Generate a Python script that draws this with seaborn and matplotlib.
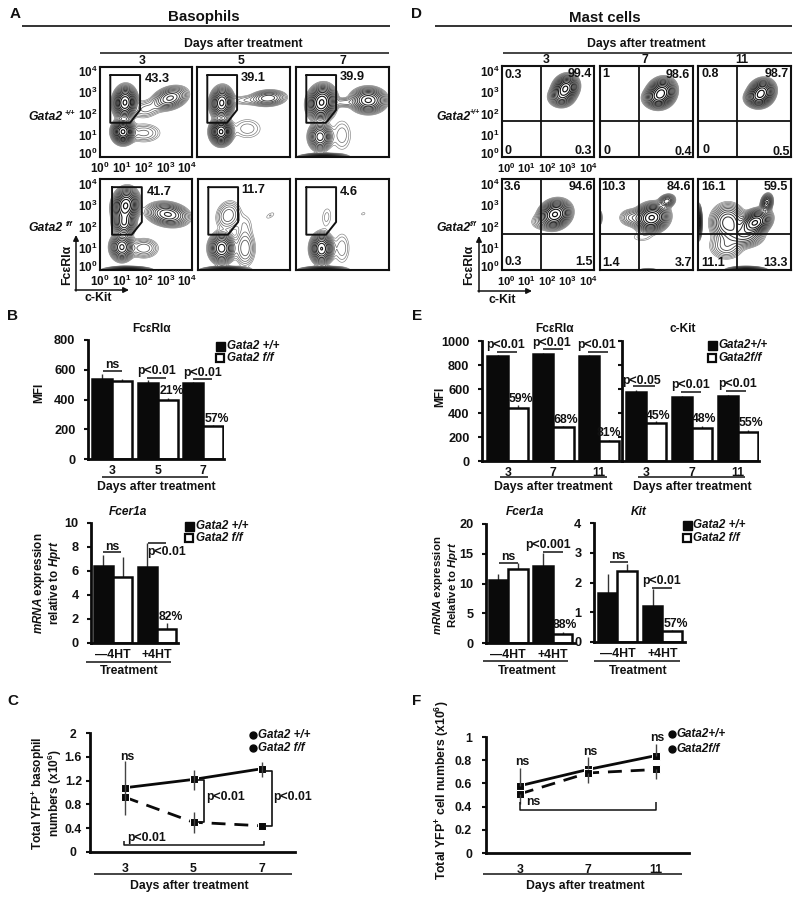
import numpy as np
import pandas as pd
import matplotlib
matplotlib.use("Agg")
import matplotlib.pyplot as plt
from matplotlib.patches import Rectangle
import seaborn as sns

sns.set_theme(style="ticks")
plt.rcParams['font.family'] = ['Liberation Sans', 'DejaVu Sans']
plt.rcParams['font.weight'] = 'bold'
plt.rcParams['mathtext.fontset'] = 'custom'
plt.rcParams['mathtext.rm'] = 'Liberation Sans:bold'
plt.rcParams['mathtext.bf'] = 'Liberation Sans:bold'
plt.rcParams['mathtext.it'] = 'Liberation Sans:italic:bold'
plt.rcParams['mathtext.bfit'] = 'Liberation Sans:italic:bold'

W, H = 800, 901
INK = "#111111"

# ---------- flow-cytometry populations: (cx, cy, sx, sy, rho, weight) in decades
STRIP = (1.25, -0.02, 0.42, 0.07, 0, 0.95)
baso_wt_3 = [(1.14, 2.5, .22, .31, .05, 1), (1.05, 1.16, .21, .23, 0, 1), (3.2, 2.7, .36, .24, .3, .3),
             (2.1, 2.2, .38, .24, .2, .05), (2.0, 1.1, .45, .25, 0, .05)]
baso_wt_5 = [(1.13, 2.48, .22, .31, .05, .75), (1.1, 1.16, .21, .25, 0, 1), (3.25, 2.7, .38, .17, .1, .2),
             (2.2, 2.6, .4, .14, 0, .03), (2.3, 1.3, .45, .32, 0, .03)]
baso_wt_7 = [(1.17, 2.5, .27, .33, .1, 1), (1.1, .93, .23, .28, 0, .45), (3.3, 2.6, .35, .25, 0, .55),
             (2.2, 2.5, .3, .12, 0, .05), (2.1, 1.0, .3, .5, 0, .03), STRIP]
baso_ff_3 = [(1.17, 2.95, .25, .33, .1, 1), (1.1, 2.15, .22, .26, 0, .5), (1.0, 1.05, .23, .27, 0, .55),
             (3.1, 2.55, .42, .24, -.2, .4), (2.0, 1.0, .35, .24, 0, .08), STRIP]
baso_ff_5 = [(1.38, 2.5, .3, .36, .15, .08), (1.08, 1.0, .25, .3, 0, .6), (2.15, 1.0, .25, .45, 0, .08),
             (2.15, 2.1, .25, .35, 0, .02), (3.3, 2.5, .2, .15, .6, .018), STRIP]
baso_ff_7 = [(1.4, 2.43, .2, .4, .15, .02), (1.17, .98, .22, .3, 0, .7), (2.1, 1.0, .25, .5, 0, .03),
             (3.07, 2.58, .12, .08, .3, .016), STRIP]
mast_wt_3 = [(2.9, 3.15, .24, .25, .15, 1), (2.7, 2.75, .25, .2, 0, .3)]
mast_wt_7 = [(2.8, 2.95, .27, .27, .15, 1), (2.6, 2.7, .28, .2, 0, .3)]
mast_wt_11 = [(2.9, 2.95, .25, .25, .15, 1), (2.7, 2.7, .25, .18, 0, .3)]
mast_ff_3 = [(2.42, 2.55, .3, .27, .15, 1), (1.7, 2.2, .25, .2, 0, .03)]
mast_ff_7 = [(2.36, 2.4, .32, .27, .1, 1), (3.05, 3.16, .17, .14, .2, .25), (1.45, 2.4, .28, .2, 0, .09),
             (1.9, 1.5, .35, .15, 0, .02), (0.03, 2.4, .05, .2, 0, .04), (2.2, -.02, .25, .06, 0, .05)]
mast_ff_11 = [(2.6, 2.17, .3, .25, .3, 1), (3.14, 3.08, .12, .18, .2, .4), (1.37, 2.17, .35, .38, 0, .35),
              (1.3, 1.1, .38, .3, 0, .1), (2.1, 1.6, .4, .25, 0, .25), (.03, 2.2, .06, .3, 0, 1),
              (2.2, -.02, .35, .07, 0, .9)]

baso_gate_x = [0.47, 1.83, 1.83, 1.37, 0.47]
baso_gate_y_top = [3.76, 3.76, 2.16, 1.57, 1.57]
baso_gate_y_bot = [3.8, 3.8, 2.2, 1.62, 1.62]
baso_pct_top = ["43.3", "39.1", "39.9"]
baso_pct_bot = ["41.7", "11.7", "4.6"]
mast_pct_top = [["0.3", "99.4", "0", "0.3"], ["1", "98.6", "0", "0.4"], ["0.8", "98.7", "0", "0.5"]]
mast_pct_bot = [["3.6", "94.6", "0.3", "1.5"], ["10.3", "84.6", "1.4", "3.7"], ["16.1", "59.5", "11.1", "13.3"]]
decade_labels = [r"$\mathbf{10^{%d}}$" % i for i in range(5)]

# ---------- bar data
groups_b = ["Gata2 +/+", "Gata2 f/f"]
days_baso = ["3", "5", "7"]
days_mast = ["3", "7", "11"]
treatments = ["\u20144HT", "+4HT"]

b_fce_wt = [540, 508, 510]
b_fce_ff = [527, 400, 222]
b_fce_wt_up = [570, 528, 520]
b_fce_ff_up = [537, 412, 228]
b_mrna_wt = [6.4, 6.3]
b_mrna_ff = [5.5, 1.15]
b_mrna_wt_up = [7.3, 8.3]
b_mrna_ff_up = [7.15, 1.65]
e_fce_wt = [878, 889, 875]
e_fce_ff = [439, 283, 169]
e_fce_wt_up = [885, 897, 880]
e_fce_ff_up = [465, 292, 176]
e_kit_wt = [572, 533, 539]
e_kit_ff = [317, 278, 242]
e_kit_wt_up = [589, 542, 547]
e_kit_ff_up = [333, 294, 261]
e_mfcer_wt = [10.6, 12.9]
e_mfcer_ff = [12.4, 1.5]
e_mfcer_wt_up = [11.6, 15.2]
e_mfcer_ff_up = [13.5, 1.9]
e_mkit_wt = [1.65, 1.2]
e_mkit_ff = [2.4, 0.37]
e_mkit_wt_up = [2.27, 1.77]
e_mkit_ff_up = [2.62, 0.42]

# ---------- line data
c_wt = [1.08, 1.22, 1.40]
c_ff = [0.92, 0.50, 0.44]
c_wt_lo = [0.63, 1.05, 1.26]
c_wt_hi = [1.53, 1.38, 1.52]
c_ff_lo = [0.92, 0.32, 0.44]
c_ff_hi = [0.92, 0.68, 0.44]
f_wt = [0.58, 0.72, 0.84]
f_ff = [0.51, 0.69, 0.72]
f_wt_lo = [0.58, 0.72, 0.84]
f_wt_hi = [0.735, 0.83, 0.94]
f_ff_lo = [0.42, 0.60, 0.64]
f_ff_hi = [0.51, 0.69, 0.72]

fig = plt.figure(figsize=(W / 100, H / 100), dpi=100, facecolor="white")


def px_axes(x0, x1, ytop, ybot):
    return fig.add_axes([x0 / W, 1 - ybot / H, (x1 - x0) / W, (ybot - ytop) / H], facecolor="none")


ov = fig.add_axes([0, 0, 1, 1], facecolor="none", zorder=20)
ov.set_xlim(0, W)
ov.set_ylim(H, 0)
ov.axis("off")


def T(x, y, s, size=8.8, ha="center", va="center", **kw):
    kw.setdefault("color", INK)
    kw.setdefault("fontweight", "bold")
    return ov.text(x, y, s, fontsize=size, ha=ha, va=va, **kw)


def L(xs, ys, lw=1.1, **kw):
    ov.plot(xs, ys, color=kw.pop("color", INK), lw=lw, solid_capstyle="butt", **kw)


LEVELS = np.geomspace(0.013, 0.93, 15)
LEVEL_SHADES = [str(v) for v in np.linspace(0.5, 0.05, 15)]
LEVEL_WIDTHS = np.linspace(0.45, 0.85, 15)


def flow(box, pops, xtick, ytick, xt=(0, 1, 2, 3, 3.95), tick_size=8.5):
    x0, x1, y0, y1 = box
    ax = px_axes(x0, x1, y0, y1)
    xmax, ymax = (x1 - x0) / 21.9, (y1 - y0) / 21.8
    gx, gy = np.meshgrid(np.linspace(0, xmax, 400), np.linspace(0, ymax, 400))
    z = np.zeros_like(gx)
    for cx, cy, sx, sy, rho, w in pops:
        u, v = (gx - cx) / sx, (gy - cy) / sy
        z += w * np.exp(-(u * u - 2 * rho * u * v + v * v) / (2 * (1 - rho * rho)))
    ax.contour(gx, gy, z, levels=LEVELS, colors=LEVEL_SHADES, linewidths=LEVEL_WIDTHS)
    ax.set_xlim(0, xmax)
    ax.set_ylim(0, ymax)
    ax.set_xticks(xt if xtick else [])
    if xtick:
        ax.set_xticklabels(decade_labels, fontsize=tick_size)
    ax.set_yticks((0.18, 1, 2, 3, 3.95) if ytick else [])
    if ytick:
        ax.set_yticklabels(decade_labels, fontsize=8.5)
    ax.tick_params(axis="x", length=0, pad=3, colors=INK)
    ax.tick_params(axis="y", length=0, pad=2, colors=INK)
    for s in ax.spines.values():
        s.set_linewidth(1.5)
        s.set_color(INK)
    return ax


# ---------- Panel A
a_boxes = [[(100, 192, 67, 157), (197, 290, 67, 157), (296, 389, 67, 157)],
           [(100, 192, 179, 270), (198, 290, 179, 270), (296, 389, 179, 270)]]
a_pops = [[baso_wt_3, baso_wt_5, baso_wt_7], [baso_ff_3, baso_ff_5, baso_ff_7]]
a_text = [[(157, 79), (253, 78), (352, 77)], [(159, 192), (253, 190), (349, 192)]]
a_labels = [baso_pct_top, baso_pct_bot]
for r in range(2):
    for c in range(3):
        ax = flow(a_boxes[r][c], a_pops[r][c], c == 0, c == 0)
        ys = baso_gate_y_top if r == 0 else baso_gate_y_bot
        off = 0.08 if (r == 1 and c == 0) else 0
        ax.plot(np.array(baso_gate_x + baso_gate_x[:1]) + off, ys + ys[:1], color=INK, lw=1.4)
        T(*a_text[r][c], a_labels[r][c], size=9.2)

T(15, 14, "A", size=11)
T(204, 17, "Basophils", size=10.8)
L([22, 390], [26, 26], lw=1.2)
T(243, 44, "Days after treatment", size=8.8)
L([100, 389], [52.5, 52.5])
for x, s in zip((142, 241, 343), days_baso):
    T(x, 61, s, size=8.8)
T(28, 117, "Gata2", ha="left", style="italic", size=8.8)
T(65, 113.5, "+/+", ha="left", style="italic", size=5.2)
T(28, 228, "Gata2", ha="left", style="italic", size=8.8)
T(66, 224.5, "f/f", ha="left", style="italic", size=5.2)
ov.annotate("", xy=(76, 235), xytext=(76, 291), arrowprops=dict(arrowstyle="-|>", lw=1.1, color=INK, mutation_scale=8, shrinkA=0, shrinkB=0))
ov.annotate("", xy=(129, 290), xytext=(75, 290), arrowprops=dict(arrowstyle="-|>", lw=1.1, color=INK, mutation_scale=8, shrinkA=0, shrinkB=0))
T(67, 265, "Fc\u03b5RI\u03b1", rotation=90, size=8.8)
T(98, 298, "c-Kit", size=8.8)

# ---------- Panel D
d_boxes = [[(502, 594, 66, 157), (600, 693, 66, 157), (698, 791, 66, 157)],
           [(502, 594, 179, 270), (600, 693, 179, 270), (698, 791, 179, 270)]]
d_pops = [[mast_wt_3, mast_wt_7, mast_wt_11], [mast_ff_3, mast_ff_7, mast_ff_11]]
d_text = [[[(513, 75), (580, 74), (508, 151), (583, 151)],
           [(606, 74), (678, 75), (607, 151), (683, 152)],
           [(710, 74), (777, 74), (706, 150), (781, 152)]],
          [[(513, 187), (581, 187), (513, 262), (584, 262)],
           [(613, 187), (679, 187), (611, 263), (683, 263)],
           [(713, 187), (776, 187), (713, 263), (776, 263)]]]
d_labels = [mast_pct_top, mast_pct_bot]
for r in range(2):
    for c in range(3):
        ax = flow(d_boxes[r][c], d_pops[r][c], c == 0, c == 0, xt=(0.2, 1.12, 2.05, 3.0, 3.95), tick_size=8)
        ax.axvline(1.78, color=INK, lw=1.3)
        ax.axhline(1.63, color=INK, lw=1.3)
        for (x, y), s in zip(d_text[r][c], d_labels[r][c]):
            T(x, y, s, size=9)

T(417, 14, "D", size=11)
T(605, 18, "Mast cells", size=10.8)
L([435, 792], [26, 26], lw=1.2)
T(646, 44, "Days after treatment", size=8.8)
L([503, 792], [53, 53])
for x, s in zip((546, 645, 742), days_mast):
    T(x, 60, s, size=8.8)
T(436, 117, "Gata2", ha="left", style="italic", size=8.8)
T(469.5, 113, "+/+", ha="left", style="italic", size=5)
T(436, 228, "Gata2", ha="left", style="italic", size=8.8)
T(470, 224.5, "f/f", ha="left", style="italic", size=5)
ov.annotate("", xy=(479, 236), xytext=(479, 292), arrowprops=dict(arrowstyle="-|>", lw=1.1, color=INK, mutation_scale=8, shrinkA=0, shrinkB=0))
ov.annotate("", xy=(532, 291), xytext=(478, 291), arrowprops=dict(arrowstyle="-|>", lw=1.1, color=INK, mutation_scale=8, shrinkA=0, shrinkB=0))
T(469, 265, "Fc\u03b5RI\u03b1", rotation=90, size=8.8)
T(502, 300, "c-Kit", size=8.8)


def bars(box, cats, wt, ff, wt_up, ff_up, ylim, yticks, xlim, ylabels=True, tick_size=9.2, width=0.88):
    ax = px_axes(*box)
    df = pd.DataFrame({"cat": list(cats) * 2,
                       "val": list(wt) + list(ff),
                       "grp": [groups_b[0]] * len(cats) + [groups_b[1]] * len(cats)})
    sns.barplot(data=df, x="cat", y="val", hue="grp", hue_order=groups_b, order=list(cats),
                palette=["#0a0a0a", "white"], edgecolor="#0a0a0a", linewidth=1.8,
                width=width, gap=0, errorbar=None, legend=False, ax=ax, zorder=2)
    pos = np.arange(len(cats))
    ax.vlines(pos - width / 4, wt, wt_up, color="#333333", lw=1, zorder=1)
    ax.vlines(pos + width / 4, ff, ff_up, color="#333333", lw=1, zorder=1)
    ax.set_xlim(*xlim)
    ax.set_ylim(*ylim)
    ax.set_yticks(yticks)
    ax.set_xlabel("")
    ax.set_ylabel("")
    if not ylabels:
        ax.set_yticklabels([])
    ax.tick_params(axis="y", length=3, width=1.5, labelsize=tick_size, pad=6, colors=INK)
    ax.tick_params(axis="x", length=0, labelsize=8.8, pad=4.5, colors=INK)
    sns.despine(ax=ax)
    for s in ("left", "bottom"):
        ax.spines[s].set_linewidth(2)
        ax.spines[s].set_color("#0a0a0a")
    return ax


def legend(x, y1, y2, tx, labels, size=8.4, s=9):
    ov.add_patch(Rectangle((x - s / 2, y1 - s / 2), s, s, fc="#0a0a0a", ec="#0a0a0a", lw=1))
    ov.add_patch(Rectangle((x - s / 2 + .8, y2 - s / 2 + .8), s - 1.6, s - 1.6, fc="white", ec="#0a0a0a", lw=1.6))
    T(tx, y1, labels[0], size=size, ha="left", style="italic", fontweight="bold")
    T(tx, y2, labels[1], size=size, ha="left", style="italic", fontweight="bold")


def anno(items, size=8.8):
    for x, y, s in items:
        T(x, y, s, size=size)


def lines(items, lw=1.1):
    for x0, x1, y in items:
        L([x0, x1], [y, y], lw=lw)


mrna_l1 = r"$\mathbfit{mRNA}$ expression"

# ---------- Panel B
T(13, 316, "B", size=11)
bars((88, 224, 340, 459), days_baso, b_fce_wt, b_fce_ff, b_fce_wt_up, b_fce_ff_up,
     (0, 800), [0, 200, 400, 600, 800], (-0.53, 2.46))
T(152, 329, "Fc\u03b5RI\u03b1", size=8.6)
T(39, 393, "MFI", rotation=90, size=8.6)
legend(220, 346, 358, 227, ("Gata2 +/+", "Gata2 f/f"))
anno([(112, 365.5, "ns"), (157, 371, "p<0.01"), (203, 373, "p<0.01"), (172, 391, "21%"), (217, 419, "57%")])
lines([(103, 122, 371), (147, 166, 378), (193, 212, 379), (102, 208, 477)])
T(156, 487, "Days after treatment", size=8.8)

bars((91, 178, 522.7, 642.7), treatments, b_mrna_wt, b_mrna_ff, b_mrna_wt_up, b_mrna_ff_up,
     (0, 10), [0, 2, 4, 6, 8, 10], (-0.5, 1.48))
T(128, 512, "Fcer1a", size=8.6, style="italic")
T(39, 583, mrna_l1, rotation=90, size=8.4)
T(55, 583, r"relative to $\mathbfit{Hprt}$", rotation=90, size=8.4)
legend(189, 526, 538, 196, ("Gata2 +/+", "Gata2 f/f"))
anno([(112, 547, "ns"), (167, 552, "p<0.01"), (171, 617, "82%")])
lines([(103, 121, 552), (148, 166, 543), (86, 171, 662)])
T(129, 671, "Treatment", size=8.8)

# ---------- Panel E
T(417, 316, "E", size=11)
bars((482, 622, 341, 461), days_mast, e_fce_wt, e_fce_ff, e_fce_wt_up, e_fce_ff_up,
     (0, 1000), [0, 200, 400, 600, 800, 1000], (-0.56, 2.5))
bars((622, 759, 341, 461), days_mast, e_kit_wt, e_kit_ff, e_kit_wt_up, e_kit_ff_up,
     (0, 1000), [0, 200, 400, 600, 800, 1000], (-0.53, 2.46), ylabels=False)
T(555, 329, "Fc\u03b5RI\u03b1", size=8.6)
T(683, 329, "c-Kit", size=8.6)
T(440, 397, "MFI", rotation=90, size=8.6)
legend(712, 345, 358, 718, ("Gata2+/+", "Gata2f/f"))
anno([(506, 345, "p<0.01"), (552, 343, "p<0.01"), (597, 345, "p<0.01"), (521, 399, "59%"), (566, 420, "68%"), (609, 433, "81%"),
      (642, 381, "p<0.05"), (691, 385, "p<0.01"), (738, 384, "p<0.01"), (658, 416, "45%"), (704, 419, "48%"), (751, 423, "55%")])
lines([(497, 517, 352), (543, 563, 349), (588, 608, 352), (633, 655, 386), (681, 701, 392), (726, 746, 391),
       (500, 607, 477), (638, 745, 477)])
T(553, 487, "Days after treatment", size=8.8)
T(692, 487, "Days after treatment", size=8.8)

bars((486, 575, 524, 643), treatments, e_mfcer_wt, e_mfcer_ff, e_mfcer_wt_up, e_mfcer_ff_up,
     (0, 20), [0, 5, 10, 15, 20], (-0.5, 1.5))
bars((594, 685, 523, 642), treatments, e_mkit_wt, e_mkit_ff, e_mkit_wt_up, e_mkit_ff_up,
     (0, 4), [0, 1, 2, 3, 4], (-0.52, 1.5))
T(525, 512, "Fcer1a", size=8.6, style="italic")
T(639, 512, "Kit", size=8.6, style="italic")
T(438, 585, mrna_l1, rotation=90, size=8.2)
T(453, 585, r"Relative to $\mathbfit{Hprt}$", rotation=90, size=8.2)
legend(687, 525, 538, 693, ("Gata2 +/+", "Gata2 f/f"))
anno([(508, 557, "ns"), (548, 545, "p<0.001"), (565, 625, "88%"), (618, 556, "ns"), (662, 581, "p<0.01"), (676, 624, "57%")])
lines([(499, 518, 563), (543, 563, 552), (610, 628, 562), (652, 672, 588), (483, 568, 661), (594, 680, 661)])
T(527, 671, "Treatment", size=8.8)
T(638, 671, "Treatment", size=8.8)


def linepanel(box, xlim, cats, wt, ff, wt_lo, wt_hi, ff_lo, ff_hi, ylim, yticks, ytl, ylab_ha="right", ylab_pad=7):
    ax = px_axes(*box)
    pos = np.arange(len(cats))
    df = pd.DataFrame({"pos": list(pos) * 2, "val": list(wt) + list(ff),
                       "grp": ["wt"] * len(cats) + ["ff"] * len(cats)})
    sns.lineplot(data=df, x="pos", y="val", hue="grp", style="grp", hue_order=["wt", "ff"],
                 style_order=["wt", "ff"], palette=["#0a0a0a", "#0a0a0a"],
                 dashes={"wt": "", "ff": (5, 3.2)}, markers={"wt": "s", "ff": "s"},
                 markersize=5.5, linewidth=2, legend=False, errorbar=None, ax=ax)
    ax.vlines(pos, wt_lo, wt_hi, color="#444444", lw=1)
    ax.vlines(pos, ff_lo, ff_hi, color="#444444", lw=1)
    ax.set_xlim(*xlim)
    ax.set_ylim(*ylim)
    ax.set_xticks(pos)
    ax.set_xticklabels(cats)
    ax.set_yticks(yticks)
    ax.set_yticklabels(ytl, ha=ylab_ha)
    ax.set_xlabel("")
    ax.set_ylabel("")
    ax.tick_params(axis="y", length=3, width=1.5, labelsize=8.8, pad=ylab_pad, colors=INK)
    ax.tick_params(axis="x", length=0, labelsize=8.8, pad=8, colors=INK)
    sns.despine(ax=ax)
    for s in ("left", "bottom"):
        ax.spines[s].set_linewidth(2)
        ax.spines[s].set_color("#0a0a0a")
    return ax


def dotlegend(x, tx, y1, y2, labels):
    for y, s in zip((y1, y2), labels):
        L([x - 3, x + 4], [y, y], lw=1.4)
        ov.plot([x], [y], "o", ms=5, color="#0a0a0a")
        T(tx, y, s, size=8.4, ha="left", style="italic")


# ---------- Panel C
T(13, 701, "C", size=11)
linepanel((90, 295, 733, 852), (-0.51, 2.48), days_baso, c_wt, c_ff, c_wt_lo, c_wt_hi, c_ff_lo, c_ff_hi,
          (0, 2), [0, .4, .8, 1.2, 1.6, 2], ["0", "0.4", "0.8", "1.2", "1.6", "2"], ylab_ha="center", ylab_pad=9)
dotlegend(253, 258, 735, 748, ("Gata2 +/+", "Gata2 f/f"))
anno([(127, 757, "ns"), (226, 797, "p<0.01"), (293, 797, "p<0.01"), (147, 838, "p<0.01")])
L([198, 204, 204, 197], [780, 780, 822, 822], lw=1.2)
L([263, 272, 272, 264], [771, 771, 826, 826], lw=1.2)
L([123.5, 123.5, 264, 264], [841, 845, 845, 841], lw=1.1)
T(38, 793, r"Total YFP$^{+}$ basophil", rotation=90, size=8.6)
T(55, 793, r"numbers (x10$^{6}$)", rotation=90, size=8.6)
L([94, 292], [874, 874])
T(189, 886, "Days after treatment", size=8.8)

# ---------- Panel F
T(417, 701, "F", size=11)
linepanel((486, 689, 737, 853), (-0.5, 2.485), days_mast, f_wt, f_ff, f_wt_lo, f_wt_hi, f_ff_lo, f_ff_hi,
          (0, 1), [0, .2, .4, .6, .8, 1], ["0", "0.2", "0.4", "0.6", "0.8", "1"])
dotlegend(672, 676, 734, 749, ("Gata2+/+", "Gata2f/f"))
anno([(522, 762, "ns"), (590, 752, "ns"), (657, 738, "ns"), (533, 802, "ns")])
L([520, 520, 656, 656], [802, 810, 810, 802], lw=1.1)
T(442, 790, r"Total YFP$^{+}$ cell numbers (x10$^{6}$)", rotation=90, size=8.8)
L([483, 682], [874, 874])
T(585, 886, "Days after treatment", size=8.8)

fig.savefig("out.png", dpi=100, facecolor="white")
